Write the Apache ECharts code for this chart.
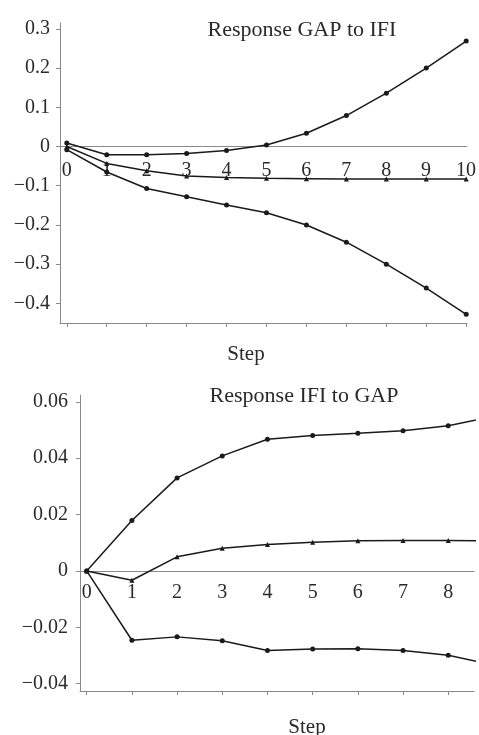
<!DOCTYPE html>
<html>
<head>
<meta charset="utf-8">
<script src="https://cdn.jsdelivr.net/npm/echarts@6/dist/echarts.min.js"></script>
<style>
  html, body { margin: 0; padding: 0; background: #fff; }
  #chart { width: 479px; height: 735px; }
</style>
</head>
<body>
<div id="chart"></div>
<script>
// steps
var steps1 = [0, 1, 2, 3, 4, 5, 6, 7, 8, 9, 10]
var steps2 = [0, 1, 2, 3, 4, 5, 6, 7, 8, 9]
var stepLabels2 = [0, 1, 2, 3, 4, 5, 6, 7, 8]

// Response GAP to IFI
var gapUpper = [0.009, -0.021, -0.021, -0.018, -0.01, 0.004, 0.034, 0.079, 0.136, 0.2, 0.269]
var gapMid = [0.0, -0.043, -0.062, -0.075, -0.079, -0.081, -0.082, -0.083, -0.083, -0.083, -0.083]
var gapLower = [-0.008, -0.065, -0.107, -0.128, -0.149, -0.169, -0.2, -0.244, -0.3, -0.361, -0.428]

// Response IFI to GAP
var ifiUpper = [0, 0.0179, 0.033, 0.0408, 0.0467, 0.048, 0.0488, 0.0497, 0.0515, 0.0548]
var ifiMid = [0, -0.0033, 0.005, 0.008, 0.0094, 0.0102, 0.0107, 0.0108, 0.0108, 0.0107]
var ifiLower = [0, -0.0246, -0.0234, -0.0248, -0.0282, -0.0277, -0.0276, -0.0282, -0.0299, -0.0334]

// tick labels
var yTicks1 = [-0.4, -0.3, -0.2, -0.1, 0, 0.1, 0.2, 0.3]
var yTicks2 = [-0.04, -0.02, 0, 0.02, 0.04, 0.06]

var FONT = 'Liberation Serif'
var AXIS_GRAY = '#8a8a8a'
var LINE_COL = '#1a1a1a'
var TXT = '#2a2a2a'

// plot boxes
var box1 = { left: 60, top: 23, width: 407, height: 300, xMin: -0.17, xMax: 10.02, yMin: -0.45, yMax: 0.315 }
var box2 = { left: 80, top: 395, width: 394, height: 296, xMin: -0.148, xMax: 8.57, yMin: -0.0426, yMax: 0.0624 }

function pairs(xs, ys) {
  return ys.map(function (v, i) { return [xs[i], v] })
}
function fmt(d) {
  return function (v) {
    if (Math.abs(v) < 1e-9) return '0'
    return (v < 0 ? '\u2212' : '') + Math.abs(v).toFixed(d)
  }
}

// main grid + a grid whose bottom edge sits on y = 0 (holds the step labels)
function gridsFor(b) {
  var zeroH = b.height * b.yMax / (b.yMax - b.yMin)
  return [
    { left: b.left, top: b.top, width: b.width, height: b.height },
    { left: b.left, top: b.top, width: b.width, height: zeroH }
  ]
}

function xAxesFor(gi, b, ticks, labelMargin) {
  return [
    {
      type: 'value', gridIndex: gi, min: b.xMin, max: b.xMax, position: 'bottom',
      axisLine: { show: true, onZero: false, lineStyle: { color: AXIS_GRAY, width: 1 } },
      axisTick: { show: true, length: 4, customValues: ticks, lineStyle: { color: AXIS_GRAY } },
      axisLabel: { show: false },
      splitLine: { show: false }
    },
    {
      type: 'value', gridIndex: gi + 1, min: b.xMin, max: b.xMax, position: 'bottom',
      axisLine: { show: true, onZero: false, lineStyle: { color: AXIS_GRAY, width: 1 } },
      axisTick: { show: false },
      axisLabel: {
        show: true, margin: labelMargin, customValues: ticks,
        fontFamily: FONT, fontSize: 20, color: TXT
      },
      splitLine: { show: false }
    }
  ]
}

function yAxesFor(gi, b, ticks, d, margin) {
  return [
    {
      type: 'value', gridIndex: gi, min: b.yMin, max: b.yMax,
      axisLine: { show: true, onZero: false, lineStyle: { color: AXIS_GRAY, width: 1 } },
      axisTick: { show: true, length: 4, customValues: ticks, lineStyle: { color: AXIS_GRAY } },
      axisLabel: {
        show: true, margin: margin, customValues: ticks, formatter: fmt(d),
        fontFamily: FONT, fontSize: 20, color: TXT
      },
      splitLine: { show: false }
    },
    { type: 'value', gridIndex: gi + 1, show: false, min: 0, max: 1 }
  ]
}

function lineSeries(xi, yi, data, symbol) {
  return {
    type: 'line', xAxisIndex: xi, yAxisIndex: yi, data: data,
    symbol: symbol, symbolSize: 5,
    showSymbol: true, clip: true, silent: true,
    lineStyle: { color: LINE_COL, width: 1.5 },
    itemStyle: { color: LINE_COL }
  }
}

function titleText(text, x, y, size) {
  return {
    text: text, left: x, top: y, textAlign: 'center',
    textStyle: { fontFamily: FONT, fontSize: size, fontWeight: 'normal', color: TXT }
  }
}

var chart = echarts.init(document.getElementById('chart'))

chart.setOption({
  animation: false,
  backgroundColor: '#fff',
  title: [
    titleText('Response GAP to IFI', 297, 14, 22),
    titleText('Step', 241, 339, 21),
    titleText('Response IFI to GAP', 299, 380, 22),
    titleText('Step', 302, 712, 21)
  ],
  grid: gridsFor(box1).concat(gridsFor(box2)),
  xAxis: xAxesFor(0, box1, steps1, 14).concat(xAxesFor(2, box2, stepLabels2, 12)),
  yAxis: yAxesFor(0, box1, yTicks1, 1, 10).concat(yAxesFor(2, box2, yTicks2, 2, 12)),
  series: [
    lineSeries(0, 0, pairs(steps1, gapUpper), 'circle'),
    lineSeries(0, 0, pairs(steps1, gapMid), 'triangle'),
    lineSeries(0, 0, pairs(steps1, gapLower), 'circle'),
    lineSeries(2, 2, pairs(steps2, ifiUpper), 'circle'),
    lineSeries(2, 2, pairs(steps2, ifiMid), 'triangle'),
    lineSeries(2, 2, pairs(steps2, ifiLower), 'circle')
  ]
})
</script>
</body>
</html>
